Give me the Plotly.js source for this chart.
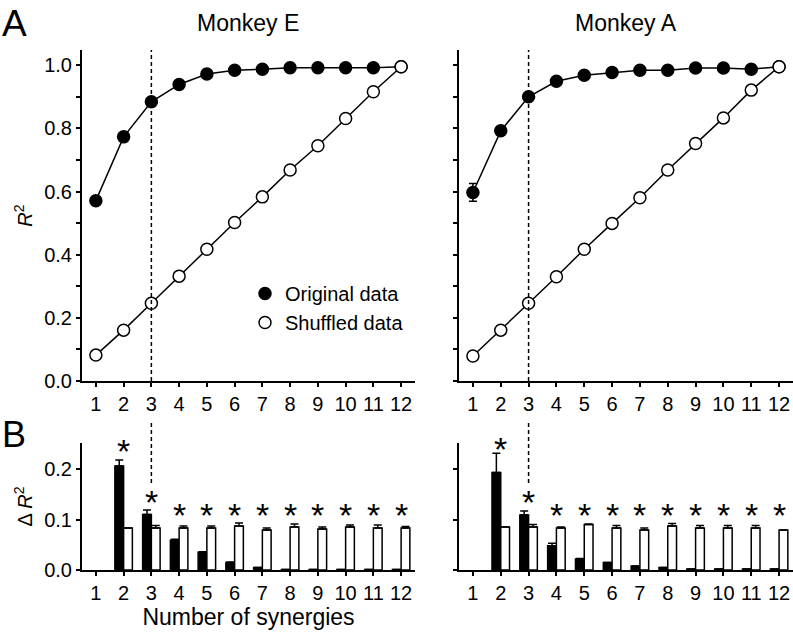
<!DOCTYPE html>
<html>
<head>
<meta charset="utf-8">
<script src="https://cdn.plot.ly/plotly-3.0.1.min.js"></script>
<style>
html,body{margin:0;padding:0;background:#fff;}
#chart{width:793px;height:634px;}
</style>
</head>
<body>
<div id="chart"></div>
<script>
// ---------- data ----------
const synergies = [1,2,3,4,5,6,7,8,9,10,11,12];
const tickLabelsX = ['1','2','3','4','5','6','7','8','9','10','11','12'];

// Panel A: R^2
const origE = [0.571,0.773,0.884,0.939,0.972,0.984,0.987,0.992,0.992,0.992,0.992,0.995];
const shufE = [0.082,0.161,0.246,0.332,0.417,0.502,0.583,0.668,0.745,0.831,0.916,0.995];
const origA = [0.597,0.792,0.900,0.949,0.968,0.977,0.984,0.984,0.991,0.991,0.987,0.995];
const origAErr = [0.028,0.004,0.003,0.002,0.002,0.001,0.001,0.001,0.001,0.001,0.001,0];
const shufA = [0.079,0.161,0.246,0.330,0.417,0.499,0.580,0.668,0.752,0.833,0.921,0.995];

// Panel B: delta R^2
const dOrigE = [null,0.206,0.110,0.059,0.035,0.015,0.005,0.001,0.001,0.001,0.001,0.001];
const dOrigEErr = [0,0.012,0.009,0.002,0.001,0.001,0,0,0,0,0,0];
const dShufE = [null,0.083,0.083,0.083,0.083,0.087,0.079,0.085,0.081,0.085,0.083,0.083];
const dShufEErr = [0,0,0.005,0.004,0.004,0.006,0.004,0.006,0.004,0.004,0.006,0.003];
const dOrigA = [null,0.193,0.109,0.048,0.022,0.015,0.008,0.005,0.002,0.002,0.002,0.002];
const dOrigAErr = [0,0.038,0.008,0.005,0.001,0,0,0,0,0,0,0];
const dShufA = [null,0.085,0.085,0.083,0.090,0.083,0.079,0.087,0.083,0.083,0.083,0.079];
const dShufAErr = [0,0,0.005,0.002,0.001,0.005,0.004,0.005,0.005,0.005,0.005,0];

// significance asterisks (height of star centre in delta R^2 units)
const starE = [null,0.251,0.150,0.125,0.125,0.125,0.125,0.125,0.125,0.125,0.125,0.125];
const starA = [null,0.256,0.150,0.125,0.125,0.125,0.125,0.125,0.125,0.125,0.125,0.125];

const yTickVals = [0,0.2,0.4,0.6,0.8,1.0];
const yTickText = ['0.0','0.2','0.4','0.6','0.8','1.0'];
const yMinorVals = [0.1,0.3,0.5,0.7,0.9];
const dTickVals = [0,0.1,0.2];
const dTickText = ['0.0','0.1','0.2'];
const selectedN = 3;

// ---------- traces ----------
const FONT = 'Liberation Sans, Arial, Helvetica, sans-serif';
const lineStyle = {color:'#000', width:1.5};
const topRange = [0, 1.048], botRange = [0, 0.2515];

function lineTrace(y, xa, ya){
  return {x:synergies, y:y, xaxis:xa, yaxis:ya, type:'scatter', mode:'lines',
          line:lineStyle, showlegend:false, hoverinfo:'skip'};
}
function markerTrace(y, xa, ya, filled, name, showLegend, err){
  const t = {x:synergies, y:y, xaxis:xa, yaxis:ya, type:'scatter', mode:'markers', name:name,
    showlegend:showLegend, legendgroup:name,
    marker:{size:12, color: filled ? '#000' : '#fff', line:{color:'#000', width:1.5}}};
  if(err){ t.error_y = {type:'data', array:err, visible:true, color:'#000', thickness:1.5, width:4}; }
  return t;
}
function barTrace(y, err, xa, ya, filled, name){
  return {x:synergies, y:y, xaxis:xa, yaxis:ya, type:'bar', name:name, showlegend:false,
    marker:{color: filled ? '#000' : '#fff', line:{color:'#000', width:1.5}},
    error_y:{type:'data', symmetric:false, array:err, arrayminus:err.map(()=>0),
             color:'#000', thickness:1.5, width:4}};
}
// stars may sit above the axis top, so place them in the axis' domain frame
function starAnnotations(ys, xa, ya){
  const out = [];
  ys.forEach((v,i) => {
    if(v === null) return;
    out.push({text:'*', x:synergies[i], y:(v - botRange[0])/(botRange[1]-botRange[0]), xref:xa, yref:ya + ' domain',
      xanchor:'center', yanchor:'middle', yshift:-8, showarrow:false, font:{family:FONT, size:34, color:'#000'}});
  });
  return out;
}

const data = [
  lineTrace(origE,'x','y'), lineTrace(shufE,'x','y'),
  markerTrace(origE,'x','y',true,'Original data',true),
  markerTrace(shufE,'x','y',false,'Shuffled data',true),
  lineTrace(origA,'x2','y2'), lineTrace(shufA,'x2','y2'),
  markerTrace(origA,'x2','y2',true,'Original data',false,origAErr),
  markerTrace(shufA,'x2','y2',false,'Shuffled data',false),
  barTrace(dOrigE,dOrigEErr,'x3','y3',true,'Original data'),
  barTrace(dShufE,dShufEErr,'x3','y3',false,'Shuffled data'),
  barTrace(dOrigA,dOrigAErr,'x4','y4',true,'Original data'),
  barTrace(dShufA,dShufAErr,'x4','y4',false,'Shuffled data')
];

// ---------- layout ----------
const W = 793, H = 634;
const leftDom = [82/W, 415/W], rightDom = [459/W, 1];
const topDom = [1-381/H, 1-50/H], botDom = [1-570/H, 1-443/H];

function xAxis(dom, anchor, title){
  const a = {domain:dom, anchor:anchor, range:[0.5,12.5], tickmode:'array', tickvals:synergies, ticktext:tickLabelsX,
    ticks:'outside', ticklen:4, tickwidth:2, tickcolor:'#000', showline:true, linewidth:2, linecolor:'#000',
    showgrid:false, zeroline:false, tickfont:{family:FONT, size:20, color:'#000'}, fixedrange:true};
  if(title){ a.title = {text:title, font:{family:FONT, size:23, color:'#000'}, standoff:4}; }
  return a;
}
function yAxis(dom, anchor, range, vals, text, showLabels, minorVals, title){
  const a = {domain:dom, anchor:anchor, range:range, tickmode:'array', tickvals:vals, ticktext:text, showticklabels:showLabels,
    ticks:'outside', ticklen:4, tickwidth:2, tickcolor:'#000', showline:true, linewidth:2, linecolor:'#000',
    showgrid:false, zeroline:false, tickfont:{family:FONT, size:20, color:'#000'}, fixedrange:true};
  if(minorVals){ a.minor = {tickmode:'array', tickvals:minorVals, ticks:'outside', ticklen:4, tickwidth:2, tickcolor:'#000', showgrid:false}; }
  if(title){ a.title = {text:title, font:{family:FONT, size:20, color:'#000'}, standoff:6}; }
  return a;
}

const layout = {
  width:W, height:H, margin:{l:0,r:0,t:0,b:0}, paper_bgcolor:'#fff', plot_bgcolor:'rgba(0,0,0,0)',
  font:{family:FONT, color:'#000'},
  barmode:'group', bargap:0.37, bargroupgap:0,
  showlegend:true,
  legend:{x:245/W, y:1-274/H, xanchor:'left', yanchor:'top', bgcolor:'rgba(0,0,0,0)',
          font:{family:FONT, size:20, color:'#000'}, itemclick:false, tracegroupgap:0},
  xaxis: xAxis(leftDom,'y'),
  yaxis: yAxis(topDom,'x',topRange,yTickVals,yTickText,true,yMinorVals,'<i>R</i><sup>2</sup>'),
  xaxis2: xAxis(rightDom,'y2'),
  yaxis2: yAxis(topDom,'x2',topRange,yTickVals,yTickText,false,yMinorVals),
  xaxis3: xAxis(leftDom,'y3','Number of synergies'),
  yaxis3: yAxis(botDom,'x3',botRange,dTickVals,dTickText,true,null,'Δ <i>R</i><sup>2</sup>'),
  xaxis4: xAxis(rightDom,'y4'),
  yaxis4: yAxis(botDom,'x4',botRange,dTickVals,dTickText,false,null),
  shapes:[
    {type:'line', xref:'x', yref:'y domain', x0:selectedN, x1:selectedN, y0:0, y1:1, line:{color:'#000', width:1.5, dash:'4px,3px'}},
    {type:'line', xref:'x2', yref:'y2 domain', x0:selectedN, x1:selectedN, y0:0, y1:1, line:{color:'#000', width:1.5, dash:'4px,3px'}},
    {type:'line', xref:'x3', yref:'paper', x0:selectedN, x1:selectedN, y0:1-483/H, y1:1-423/H, line:{color:'#000', width:1.5, dash:'4px,3px'}},
    {type:'line', xref:'x4', yref:'paper', x0:selectedN, x1:selectedN, y0:1-483/H, y1:1-423/H, line:{color:'#000', width:1.5, dash:'4px,3px'}}
  ],
  annotations:[
    {text:'Monkey E', xref:'x domain', yref:'paper', x:0.5, y:1-23/H, xanchor:'center', yanchor:'middle', showarrow:false, font:{family:FONT, size:23, color:'#000'}},
    {text:'Monkey A', xref:'x2 domain', yref:'paper', x:0.5, y:1-23/H, xanchor:'center', yanchor:'middle', showarrow:false, font:{family:FONT, size:23, color:'#000'}},
    {text:'A', xref:'paper', yref:'paper', x:0, y:1-24/H, xanchor:'left', yanchor:'middle', showarrow:false, font:{family:FONT, size:37, color:'#000'}},
    {text:'B', xref:'paper', yref:'paper', x:0, y:1-435/H, xanchor:'left', yanchor:'middle', showarrow:false, font:{family:FONT, size:36, color:'#000'}}
  ].concat(starAnnotations(starE,'x3','y3'), starAnnotations(starA,'x4','y4'))
};

Plotly.newPlot('chart', data, layout, {staticPlot:true, displayModeBar:false});
</script>
</body>
</html>
